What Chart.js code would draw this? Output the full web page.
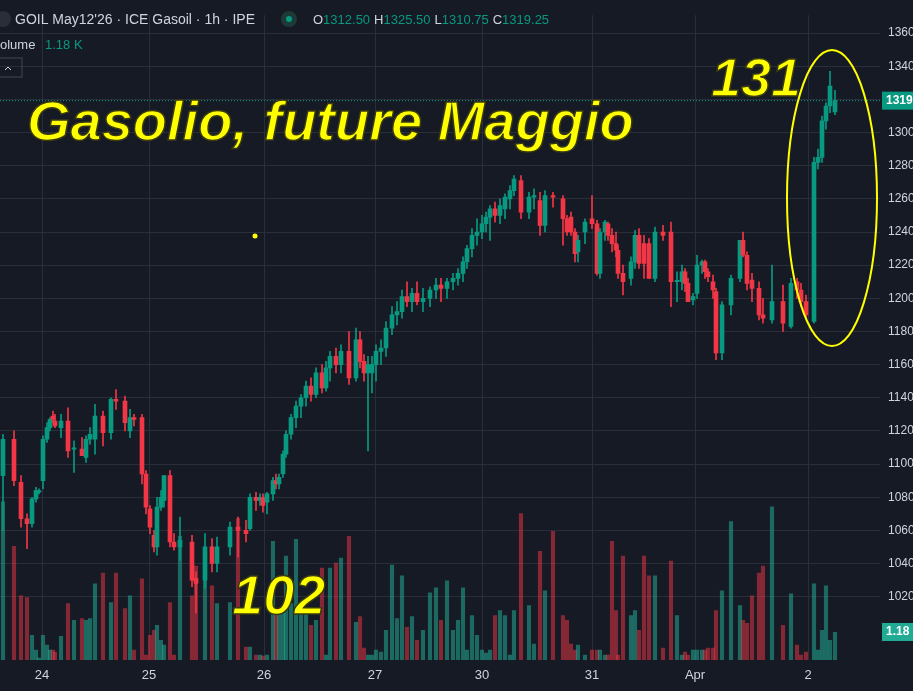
<!DOCTYPE html>
<html><head><meta charset="utf-8">
<script src="https://cdn.jsdelivr.net/npm/chart.js@4.4.1/dist/chart.umd.min.js"></script>
<style>html,body{margin:0;background:#161a25;}#wrap{width:913px;height:691px;}</style>
</head><body><div id="wrap"><canvas id="c"></canvas></div>
<script>
// hourly candles, slot = position along the time axis
const slot = [3,14,21,27,32,36,39,43,47,50,53,55,61,68,74,82,86,90,95,103,111,116,125,130,134,142,146,150,154,157,161,164,170,174,180,192,196,205,212,217,230,238,246,250,256,260,263,267,273,276,279,283,286,291,
296,301,306,311,316,322,326,330,336,341,349,356,360,364,368,372,376,381,386,392,397,402,407,412,417,423,430,436,441,447,453,458,463,467,472,477,482,486,490,495,500,505,510,514,521,529,534,540,545,553,563,567,571,575,578,585,592,597,600,605,608,612,616,618,623,631,635,639,644,649,655,663,671,677,682,685,688,693,697,702,705,708,713,716,722,731,740,743,747,752,759,763,772,783,791,797,801,806,814,818,822,826,830,835];
const open = [1093,1115,1089,1067,1064,1079,1083,1090,1115,1122,1129,1126,1122,1126,1109,1109,1104,1115,1115,1129,1119,1139,1138,1120,1128,1128,1094,1073,1057,1050,1074,1078,1093,1053,1050,1053,1031,1030,1050,1040,1050,1062,1060,1061,1080,1078,1080,1077,1082,1090,1088,1094,1106,1118,
1128,1135,1140,1147,1142,1155,1146,1158,1165,1160,1168,1152,1175,1162,1155,1155,1160,1168,1170,1182,1190,1192,1201,1198,1203,1198,1200,1205,1208,1206,1210,1212,1215,1222,1230,1238,1240,1245,1249,1254,1250,1254,1260,1265,1271,1252,1261,1259,1244,1262,1260,1248,1249,1240,1228,1240,1248,1245,1215,1240,1245,1238,1233,1229,1215,1212,1222,1238,1233,1233,1212,1240,1240,1210,1210,1216,1209,1199,1203,1220,1222,1216,1210,1204,1167,1196,1212,1235,1226,1211,1206,1190,1187,1198,1183,1210,1205,1198,1186,1282,1285,1307,1316,1312.5];
const high = [1118,1120,1093,1070,1080,1086,1085,1117,1125,1128,1132,1130,1130,1134,1114,1116,1117,1122,1136,1132,1140,1145,1141,1133,1130,1130,1096,1075,1060,1080,1084,1093,1096,1058,1068,1057,1035,1058,1055,1056,1065,1068,1066,1082,1083,1082,1082,1083,1092,1094,1094,1108,1120,1130,
1138,1142,1150,1152,1158,1160,1162,1168,1170,1172,1180,1182,1180,1166,1165,1165,1172,1175,1186,1195,1198,1205,1210,1206,1210,1206,1207,1212,1212,1212,1215,1218,1225,1232,1242,1248,1250,1252,1256,1258,1260,1263,1268,1274,1274,1264,1266,1264,1265,1264,1262,1250,1252,1242,1238,1248,1262,1247,1242,1247,1246,1242,1240,1232,1220,1225,1241,1242,1238,1236,1243,1244,1246,1216,1220,1218,1212,1203,1226,1223,1223,1218,1214,1206,1198,1214,1235,1240,1228,1215,1210,1200,1220,1208,1212,1212,1209,1202,1285,1290,1310,1318,1337,1325.5];
const low = [1060,1087,1062,1049,1062,1077,1082,1085,1113,1120,1125,1122,1116,1104,1095,1105,1101,1112,1106,1111,1115,1133,1120,1116,1123,1088,1070,1058,1047,1045,1072,1074,1050,1048,1042,1026,1010,1025,1035,1035,1045,1044,1053,1060,1072,1075,1071,1070,1078,1085,1085,1092,1104,1115,
1122,1128,1135,1138,1140,1143,1144,1150,1155,1155,1148,1150,1158,1150,1108,1143,1150,1160,1165,1178,1184,1188,1195,1192,1196,1192,1195,1200,1198,1200,1205,1208,1210,1218,1225,1232,1236,1240,1235,1246,1245,1248,1254,1262,1248,1248,1254,1238,1240,1255,1232,1238,1238,1222,1222,1233,1242,1214,1212,1235,1235,1228,1225,1212,1202,1208,1218,1218,1212,1212,1210,1235,1195,1198,1205,1204,1198,1196,1200,1215,1212,1210,1200,1163,1163,1190,1210,1225,1205,1198,1187,1185,1185,1180,1182,1200,1195,1188,1185,1278,1282,1302,1312,1310.75];
const close = [1115,1090,1067,1064,1079,1084,1084,1115,1122,1127,1127,1123,1126,1108,1109,1105,1115,1118,1129,1119,1139,1138,1125,1128,1127,1094,1074,1062,1050,1074,1080,1093,1053,1050,1054,1030,1028,1050,1040,1050,1062,1060,1058,1080,1078,1080,1075,1082,1090,1088,1092,1106,1118,1128,
1135,1140,1147,1142,1155,1146,1158,1165,1160,1168,1152,1175,1162,1155,1160,1160,1168,1170,1182,1190,1192,1201,1198,1203,1198,1200,1205,1208,1206,1210,1212,1215,1222,1230,1238,1240,1245,1249,1254,1250,1256,1261,1265,1272,1252,1261,1262,1244,1262,1261,1248,1240,1240,1227,1235,1246,1245,1215,1240,1246,1238,1233,1229,1215,1210,1222,1238,1221,1221,1212,1240,1238,1210,1210,1216,1209,1198,1201,1220,1222,1216,1213,1205,1167,1196,1212,1235,1226,1209,1206,1190,1188,1198,1185,1209,1205,1198,1190,1282,1285,1307,1316,1328,1319.25];
const volume = [160,115,65,63,25,10,2,25,15,10,10,8,24,57,40,42,40,42,77,88,58,88,52,65,10,82,5,25,30,35,20,15,58,5,125,65,95,108,75,57,58,143,13,13,5,5,4,5,120,50,50,52,105,57,
122,53,48,35,40,93,5,93,98,103,125,38,44,12,5,5,10,8,30,96,42,85,33,44,20,30,68,73,40,80,30,40,73,10,45,25,10,7,10,45,50,45,5,50,148,55,16,110,70,130,45,40,16,10,15,5,10,10,10,5,5,120,50,5,105,45,50,30,105,85,85,12,100,45,5,8,5,10,10,10,10,12,12,50,70,140,55,40,37,65,88,95,155,35,67,15,5,8,77,10,30,75,20,28];
const dayTicks = [42,149,264,375,482,592,695,808];
const dayLabels = ['24','25','26','27','30','31','Apr','2'];
const priceTicks = [1020,1040,1060,1080,1100,1120,1140,1160,1180,1200,1220,1240,1260,1280,1300,1320,1340,1360];

const UP = '#089981', DN = '#f23645';
const upDn = i => close[i] >= open[i];
const wicks = slot.map((s, i) => ({x: s, y: [low[i], high[i]]}));
const bodies = slot.map((s, i) => ({x: s, y: [open[i], Math.abs(close[i]-open[i]) < 0.8 ? close[i] + (upDn(i)?0.8:-0.8) : close[i]]}));
const vols = slot.map((s, i) => ({x: s, y: volume[i]}));

const overlay = {
  id: 'overlay',
  afterDraw(ch) {
    const c = ch.ctx, ys = ch.scales.y, ca = ch.chartArea;
    c.save();
    // last price line
    const yl = ys.getPixelForValue(1319.25);
    c.setLineDash([1,2]); c.strokeStyle = UP; c.lineWidth = 1;
    c.beginPath(); c.moveTo(0, yl); c.lineTo(ca.right, yl); c.stroke(); c.setLineDash([]);
    c.fillStyle = UP; c.fillRect(ca.right+2, yl-9, 40, 18);
    c.fillStyle = '#fff'; c.font = 'bold 12px "Liberation Sans"'; c.textBaseline = 'middle';
    c.fillText('1319', ca.right+6, yl);
    c.fillStyle = '#22ab94'; c.fillRect(ca.right+2, 623, 40, 18);
    c.fillStyle = '#fff'; c.fillText('1.18', ca.right+6, 632);
    // header
    c.textBaseline = 'alphabetic';
    c.fillStyle = '#2a2e39'; c.beginPath(); c.arc(3, 19, 8, 0, 7); c.fill();
    c.font = '14px "Liberation Sans"'; c.fillStyle = '#d1d4dc';
    c.fillText("GOIL May12'26 · ICE Gasoil · 1h · IPE", 15, 24);
    c.fillStyle = '#1e3a36'; c.beginPath(); c.arc(289, 19, 8, 0, 7); c.fill();
    c.fillStyle = UP; c.beginPath(); c.arc(289, 19, 3, 0, 7); c.fill();
    c.font = '13px "Liberation Sans"';
    let x = 313;
    [['O','1312.50'],['H','1325.50'],['L','1310.75'],['C','1319.25']].forEach(([k, v]) => {
      c.fillStyle = '#d1d4dc'; c.fillText(k, x, 24); x += c.measureText(k).width;
      c.fillStyle = UP; c.fillText(v, x, 24); x += c.measureText(v).width + 4;
    });
    c.fillStyle = '#d1d4dc'; c.fillText('olume', 0, 49);
    c.fillStyle = UP; c.fillText('1.18 K', 45, 49);
    c.strokeStyle = '#434651'; c.lineWidth = 1; c.strokeRect(-4, 58, 26, 19);
    c.strokeStyle = '#d1d4dc'; c.beginPath(); c.moveTo(5, 70); c.lineTo(8, 67); c.lineTo(11, 70); c.stroke();
    // annotations
    c.fillStyle = '#ffff00'; c.strokeStyle = '#3a3a10'; c.lineWidth = 1.5;
    c.font = 'italic bold 56px "Liberation Sans"';
    c.fillText('Gasolio, future Maggio', 27, 140); c.strokeText('Gasolio, future Maggio', 27, 140);
    c.font = 'italic bold 54px "Liberation Sans"';
    c.fillText('131', 711, 96); c.strokeText('131', 711, 96);
    c.font = 'italic bold 56px "Liberation Sans"';
    c.fillText('102', 232, 614); c.strokeText('102', 232, 614);
    c.beginPath(); c.arc(255, 236, 2.5, 0, 7); c.fill();
    c.strokeStyle = '#ffff00'; c.lineWidth = 2;
    c.beginPath(); c.ellipse(832, 198, 45, 148, 0, 0, 7); c.stroke();
    c.restore();
  }
};

new Chart(document.getElementById('c'), {
  data: {
    datasets: [
      {type: 'bar', data: vols, yAxisID: 'v', barThickness: 3.5, grouped: false, order: 3,
       backgroundColor: slot.map((s, i) => upDn(i) ? 'rgba(34,171,148,0.55)' : 'rgba(242,54,69,0.5)')},
      {type: 'bar', data: wicks, yAxisID: 'y', barThickness: 1, grouped: false, order: 2,
       backgroundColor: slot.map((s, i) => upDn(i) ? UP : DN)},
      {type: 'bar', data: bodies, yAxisID: 'y', barThickness: 4, grouped: false, order: 1,
       backgroundColor: slot.map((s, i) => upDn(i) ? UP : DN)}
    ]
  },
  options: {
    responsive: true, maintainAspectRatio: false, animation: false,
    layout: {padding: 0},
    plugins: {legend: {display: false}, tooltip: {enabled: false}},
    scales: {
      x: {type: 'linear', min: 0, max: 880, offset: false,
        afterBuildTicks: s => { s.ticks = dayTicks.map(v => ({value: v})); },
        afterFit: s => { s.height = 31; },
        grid: {color: '#2a2e39', drawTicks: false, offset: false},
        border: {display: false},
        ticks: {color: '#d1d4dc', font: {size: 13, family: 'Liberation Sans'}, padding: 8, maxRotation: 0,
          callback: (v, i) => dayLabels[i]}},
      y: {position: 'right', min: 981.8, max: 1370.8,
        afterBuildTicks: s => { s.ticks = priceTicks.map(v => ({value: v})); },
        afterFit: s => { s.width = 33; },
        grid: {color: '#2a2e39', drawTicks: false},
        border: {display: false},
        ticks: {color: '#d1d4dc', font: {size: 12, family: 'Liberation Sans'}, padding: 8, callback: v => String(v)}},
      v: {display: false, min: 0, max: 652}
    }
  },
  plugins: [overlay]
});
</script></body></html>
